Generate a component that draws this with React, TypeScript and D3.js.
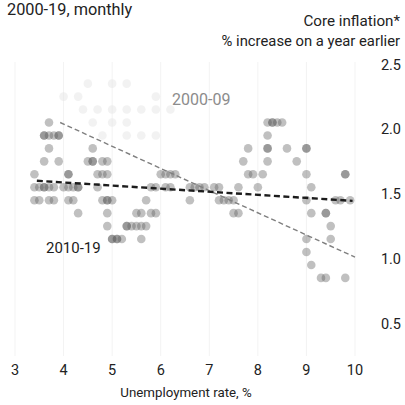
import React from 'react';
import * as d3 from 'd3';

const xTicks = [3, 4, 5, 6, 7, 8, 9, 10];
const yTicks = [0.5, 1.0, 1.5, 2.0, 2.5];

// 2010-19: core inflation level (rows) and unemployment rates observed at that level
const infl2010s = [2.1, 2.0, 1.9, 1.8, 1.7, 1.6, 1.5, 1.4, 1.3, 1.2, 1.1, 1.0, 0.9];
const unemp2010s = [
  [3.7, 8.2, 8.3, 8.3, 8.4, 8.5],
  [3.6, 3.6, 3.7, 3.8, 3.9, 3.9, 8.2],
  [3.7, 4.6, 7.8, 8.2, 8.2, 8.6, 9.0, 9.0],
  [3.6, 3.9, 4.5, 4.6, 4.6, 4.8, 4.9, 7.7, 8.2, 8.8],
  [3.4, 4.1, 4.1, 4.7, 4.8, 4.9, 6.0, 6.1, 6.2, 6.3, 7.8, 7.9, 8.1, 9.0, 9.8, 9.8],
  [3.4, 3.5, 3.6, 3.6, 3.7, 3.8, 4.0, 4.1, 4.2, 4.3, 4.3, 4.7, 5.8, 5.9, 6.1, 6.2, 6.6, 6.7, 6.8, 6.9, 7.1, 7.2, 7.6, 8.0, 9.1],
  [3.4, 3.5, 3.7, 3.8, 4.1, 4.2, 4.8, 4.9, 4.9, 5.0, 5.7, 6.6, 7.2, 7.3, 7.4, 7.5, 9.0, 9.6, 9.7, 9.9],
  [4.3, 4.9, 5.5, 5.6, 5.8, 5.9, 7.5, 7.6, 9.1, 9.4, 9.4],
  [4.9, 5.3, 5.3, 5.4, 5.5, 5.6, 5.7, 9.5],
  [5.0, 5.0, 5.1, 5.1, 5.2, 5.6, 9.0, 9.5],
  [9.0],
  [9.1],
  [9.3, 9.4, 9.8],
];

// 2000-09: faintly printed points
const infl2000s = [2.4, 2.3, 2.2, 2.1, 2.0];
const unemp2000s = [
  [4.5, 5.0, 5.3],
  [4.0, 4.3, 5.9],
  [4.4, 4.7, 5.0, 5.3, 5.6, 5.9, 6.2],
  [4.6, 5.0, 5.3],
  [4.8, 5.3, 5.6, 5.9],
];

// Trend lines (unemployment, inflation) endpoints
const trend2000s: [number, number][] = [[3.93, 2.1], [10.0, 1.06]];
const trend2010s: [number, number][] = [[3.45, 1.65], [9.95, 1.495]];

const FONT = 'Roboto, "Open Sans", sans-serif';

export default function App() {
  const W = 405, H = 405;
  const x = d3.scaleLinear().domain([3, 10]).range([15, 355]);
  const y = d3.scaleLinear().domain([0.5, 2.5]).range([329.7, 70.7]);
  const line = d3.line<[number, number]>().x(d => x(d[0])).y(d => y(d[1]));

  const pts2010 = infl2010s.flatMap((v, i) => unemp2010s[i].map(u => [u, v] as [number, number]));
  const pts2000 = infl2000s.flatMap((v, i) => unemp2000s[i].map(u => [u, v] as [number, number]));

  return (
    <svg width={W} height={H} style={{ position: 'absolute', left: 0, top: 0, background: '#fff' }} fontFamily={FONT}>
      {xTicks.map(t => (
        <line key={'g' + t} x1={x(t)} x2={x(t)} y1={62} y2={356} stroke="#f3f3f3" strokeWidth={1} />
      ))}
      <text x={7} y={15} fontSize={16.3} fill="#222">2000-19, monthly</text>
      <text x={400} y={26} fontSize={15.2} fill="#222" textAnchor="end">Core inflation*</text>
      <text x={400} y={46} fontSize={14.8} fill="#222" textAnchor="end">% increase on a year earlier</text>
      {yTicks.map(t => (
        <text key={'y' + t} x={401} y={y(t) - 1} fontSize={14.5} fill="#222" textAnchor="end">{d3.format('.1f')(t)}</text>
      ))}
      {xTicks.map(t => (
        <text key={'x' + t} x={x(t)} y={375} fontSize={14.5} fill="#222" textAnchor="middle">{t}</text>
      ))}
      <text x={186} y={397} fontSize={13.3} fill="#222" textAnchor="middle">Unemployment rate, %</text>

      {pts2000.map((p, i) => (
        <circle key={'a' + i} cx={x(p[0])} cy={y(p[1])} r={4.3} fill="#e6e6e6" fillOpacity={0.5} />
      ))}
      {pts2010.map((p, i) => (
        <circle key={'b' + i} cx={x(p[0])} cy={y(p[1])} r={4.3} fill="#5a5a5a" fillOpacity={0.38} />
      ))}

      <path d={line(trend2000s) || ''} fill="none" stroke="#7f7f7f" strokeWidth={1.4} strokeDasharray="5 3" />
      <path d={line(trend2010s) || ''} fill="none" stroke="#1c1c1c" strokeWidth={2.4} strokeDasharray="6 3.5" />

      <text x={172} y={105} fontSize={16} fill="#8c8c8c">2000-09</text>
      <text x={46} y={253} fontSize={15} fill="#1c1c1c">2010-19</text>
    </svg>
  );
}
